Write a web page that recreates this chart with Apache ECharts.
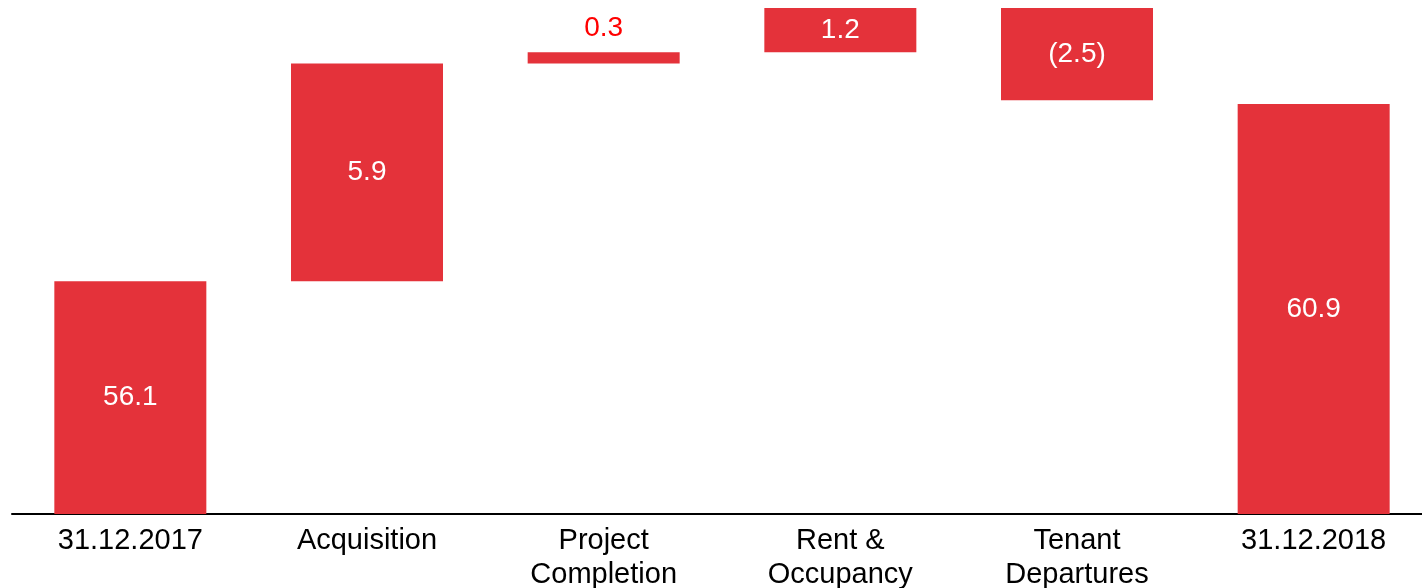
<!DOCTYPE html>
<html>
<head>
<meta charset="utf-8">
<script src="https://cdn.jsdelivr.net/npm/echarts@6/dist/echarts.min.js"></script>
<style>html,body{margin:0;padding:0;background:#fff;}#c{width:1422px;height:588px;}</style>
</head>
<body>
<div id="c"></div>
<script>
var categories = ['31.12.2017', 'Acquisition', 'Project\nCompletion', 'Rent &\nOccupancy', 'Tenant\nDepartures', '31.12.2018'];
var startValue = 56.1;
var deltas = [5.9, 0.3, 1.2, -2.5];
var endValue = 60.9;

// build waterfall helper (invisible base) and visible segment arrays
var baseData = [0];
var barData = [startValue];
var labelText = [startValue.toFixed(1)];
var running = startValue;
deltas.forEach(function (d) {
  var next = running + d;
  baseData.push(+Math.min(running, next).toFixed(2));
  barData.push(+Math.abs(d).toFixed(2));
  labelText.push(d < 0 ? '(' + Math.abs(d).toFixed(1) + ')' : d.toFixed(1));
  running = next;
});
baseData.push(0);
barData.push(endValue);
labelText.push(endValue.toFixed(1));

var RED = '#E4323A';
var FONT = '"Liberation Sans", Arial, sans-serif';
var chart = echarts.init(document.getElementById('c'));
chart.setOption({
  animation: false,
  grid: { left: 12, width: 1420, top: 8, bottom: 74, containLabel: false, outerBoundsMode: 'none' },
  xAxis: {
    type: 'category',
    data: categories,
    axisLine: { show: true, lineStyle: { color: '#000', width: 2 } },
    axisTick: { show: false },
    axisLabel: { color: '#000', fontSize: 29, fontFamily: FONT, lineHeight: 34, margin: 10, interval: 0 }
  },
  yAxis: {
    type: 'value', min: 49.8, max: 63.5,
    show: false, splitLine: { show: false }
  },
  series: [
    {
      type: 'bar', stack: 'w', data: baseData, barWidth: 152,
      itemStyle: { color: 'transparent' }, silent: true
    },
    {
      type: 'bar', stack: 'w', barWidth: 152,
      itemStyle: { color: RED },
      data: barData.map(function (v, i) {
        var small = i === 2;
        return {
          value: v,
          label: {
            show: true,
            position: small ? 'top' : 'inside',
            distance: 10,
            color: small ? '#FF0000' : '#fff',
            fontSize: 28,
            fontFamily: FONT,
            formatter: function () { return labelText[i]; }
          }
        };
      })
    }
  ]
});
</script>
</body>
</html>
